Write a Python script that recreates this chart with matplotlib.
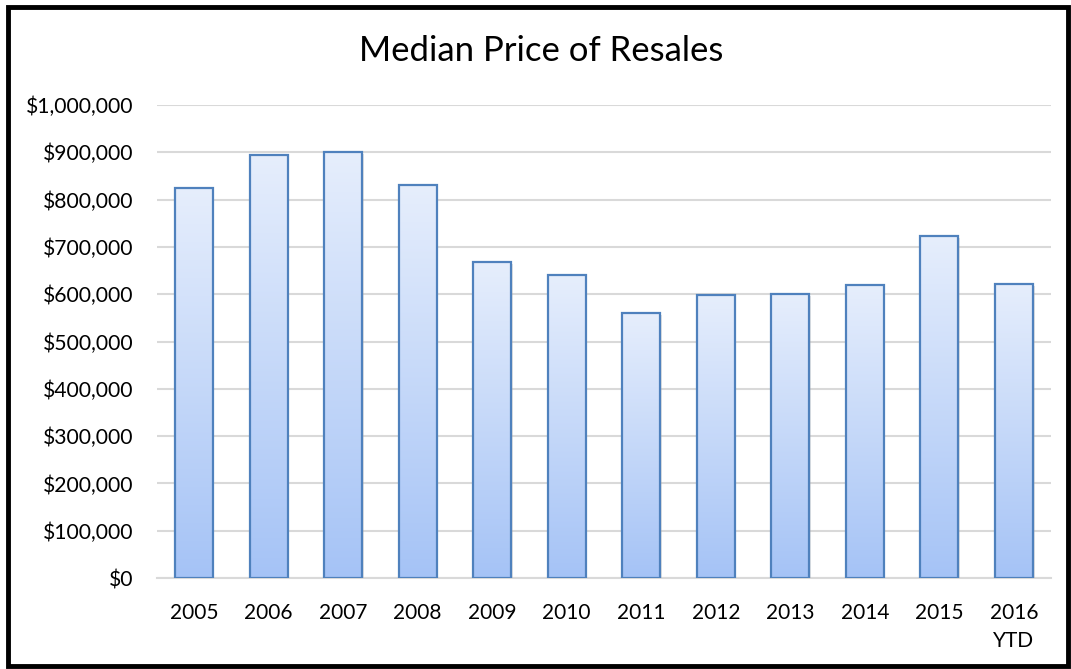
import matplotlib
matplotlib.use("Agg")
import matplotlib.pyplot as plt
import numpy as np
from matplotlib.colors import LinearSegmentedColormap
from matplotlib.patches import Rectangle
from matplotlib.ticker import FuncFormatter, MultipleLocator

categories = ["2005", "2006", "2007", "2008", "2009", "2010", "2011",
              "2012", "2013", "2014", "2015", "2016\nYTD"]
values = [825000, 895000, 900000, 830000, 668000, 640000, 560000,
          598000, 600000, 619000, 723000, 622000]
title = "Median Price of Resales"

plt.rcParams['font.family'] = ['Lato', 'DejaVu Sans']

fig = plt.figure(figsize=(10.71, 6.69), dpi=100)
ax = fig.add_axes([0.1463, 0.136, 0.8353, 0.707])

x = np.arange(len(categories))
bars = ax.bar(x, values, width=0.51, facecolor='none', edgecolor='#4f81bd',
              linewidth=1.6, zorder=3)

cmap = LinearSegmentedColormap.from_list("g", ["#a5c3f6", "#e6eefc"])
grad = np.linspace(0, 1, 256).reshape(-1, 1)
for b in bars:
    x0, w, h = b.get_x(), b.get_width(), b.get_height()
    sh = Rectangle((x0 + 0.02, -4000), w, h, facecolor='#b0b0b0', alpha=0.35,
                   edgecolor='none', zorder=2)
    ax.add_patch(sh)
    im = ax.imshow(grad, cmap=cmap, origin='lower', aspect='auto',
                   extent=(x0, x0 + w, 0, h), zorder=2.5, interpolation='bicubic')
    im.set_clip_path(b)

ax.set_xlim(-0.5, len(categories) - 0.5)
ax.set_ylim(0, 1000000)
ax.yaxis.set_major_locator(MultipleLocator(100000))
ax.yaxis.set_major_formatter(FuncFormatter(lambda v, p: "${:,.0f}".format(v)))
ax.set_xticks(x)
ax.set_xticklabels(categories, fontsize=15, linespacing=1.5, va='top')
ax.tick_params(axis='y', labelsize=15.2, length=0, pad=17)
ax.tick_params(axis='x', length=0, pad=18)
ax.grid(axis='y', color='#d9d9d9', linewidth=1.5, zorder=0)
ax.set_axisbelow(True)
for s in ['top', 'right', 'left']:
    ax.spines[s].set_visible(False)
ax.spines['bottom'].set_color('#d9d9d9')
ax.spines['bottom'].set_linewidth(1.5)
ax.spines['bottom'].set_zorder(1)

fig.text(0.5051, 0.924, title, fontsize=25, ha='center', va='center')

fig.patches.append(Rectangle((0.0075, 0.004), 0.9895, 0.985, transform=fig.transFigure,
                             fill=False, edgecolor='black', linewidth=3.5))

fig.savefig("out.png", dpi=100)
